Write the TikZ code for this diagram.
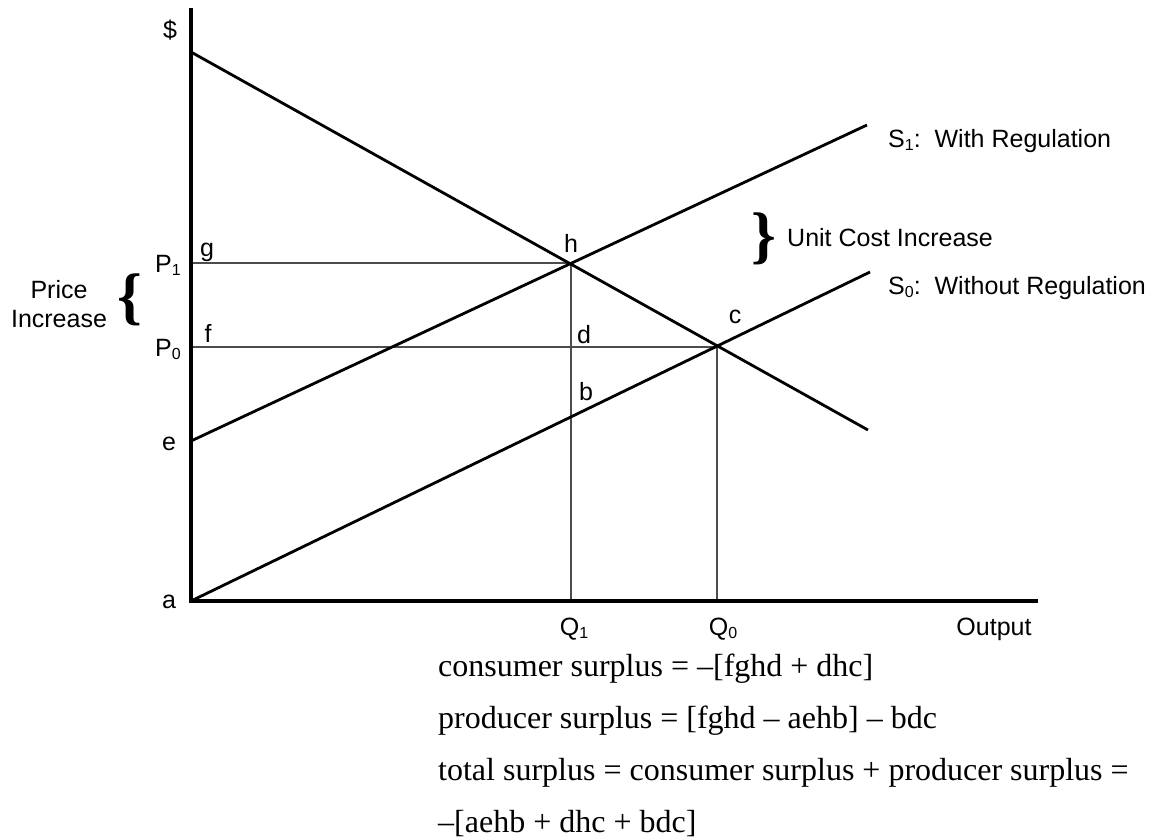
\documentclass[tikz,border=0pt]{standalone}
\usepackage{fontspec}
\setmainfont{Liberation Serif}
\setsansfont{Liberation Sans}
\newcommand{\lowsub}[1]{\raisebox{-0.3ex}{\fontsize{16}{16}\selectfont #1}}

\begin{document}
\begin{tikzpicture}[x=1pt,y=-1pt,
    axisline/.style={line width=3.2pt},
    curveline/.style={line width=2.8pt},
    guideline/.style={line width=1.3pt, draw=black!70},
    lbl/.style={font=\fontsize{25}{29}\selectfont\sffamily, inner sep=0pt},
    bracetext/.style={font=\fontsize{63}{63}\selectfont\bfseries, inner sep=0pt}]
  \useasboundingbox (0,0) rectangle (1158,839);
  % points of the diagram
  \coordinate (a) at (191,601);
  \coordinate (ytop) at (191,8);
  \coordinate (xend) at (1038,601);
  \coordinate (dtop) at (191,52);
  \coordinate (dend) at (868,430);
  \coordinate (e) at (191,441);
  \coordinate (s1end) at (867,125);
  \coordinate (s0end) at (870,272);
  \coordinate (g) at (191,263);
  \coordinate (f) at (191,347);
  \coordinate (h) at (571,263);
  \coordinate (c) at (717,347);
  \coordinate (q1) at (571,601);
  \coordinate (q0) at (717,601);
  % guides
  \draw[guideline] (g) -- (h) -- (q1);
  \draw[guideline] (f) -- (c) -- (q0);
  % axes
  \draw[axisline] (ytop) -- (a) -- (xend);
  % demand and supply
  \draw[curveline] (dtop) -- (dend);
  \draw[curveline] (e) -- (s1end);
  \draw[curveline] (a) -- (s0end);
  % labels
  \node[lbl, anchor=base] (dollar) at (170,38) {\$};
  \node[lbl, anchor=base] (glbl) at (207,256) {g};
  \node[lbl, anchor=base] (flbl) at (208,342) {f};
  \node[lbl, anchor=base] (elbl) at (169,450) {e};
  \node[lbl, anchor=base] (albl) at (169,608) {a};
  \node[lbl, anchor=base] (hlbl) at (571,252) {h};
  \node[lbl, anchor=base] (dlbl) at (584,343) {d};
  \node[lbl, anchor=base] (clbl) at (735,323) {c};
  \node[lbl, anchor=base] (blbl) at (586,400) {b};
  \node[lbl, anchor=base east] (p1lbl) at (181,272) {P\lowsub{1}};
  \node[lbl, anchor=base east] (p0lbl) at (181,356) {P\lowsub{0}};
  \node[lbl, anchor=base] (q1lbl) at (574,635) {Q\lowsub{1}};
  \node[lbl, anchor=base] (q0lbl) at (723,635) {Q\lowsub{0}};
  \node[lbl, anchor=base] (outlbl) at (994,635) {Output};
  \node[lbl, anchor=base west] (s1lbl) at (888,147) {S\lowsub{1}:\ \ With Regulation};
  \node[lbl, anchor=base west] (s0lbl) at (888,294) {S\lowsub{0}:\ \ Without Regulation};
  \node[lbl, anchor=base west] (unitlbl) at (787,246) {Unit Cost Increase};
  \node[lbl, align=center, font=\fontsize{25}{29}\selectfont\sffamily] (pricelbl) at (59,304) {Price\\Increase};
  \node[bracetext] (lbrace) at (129.5,299.5) {\{};
  \node[bracetext] (rbrace) at (763.5,239) {\}};
  % welfare changes
  \node[anchor=base west, align=left, inner sep=0pt,
        font=\fontsize{32}{52}\selectfont] (surplus) at (438,832)
    {consumer surplus = –[fghd + dhc]\\
     producer surplus = [fghd – aehb] – bdc\\
     total surplus = consumer surplus + producer surplus =\\
     –[aehb + dhc + bdc]};
\end{tikzpicture}
\end{document}
